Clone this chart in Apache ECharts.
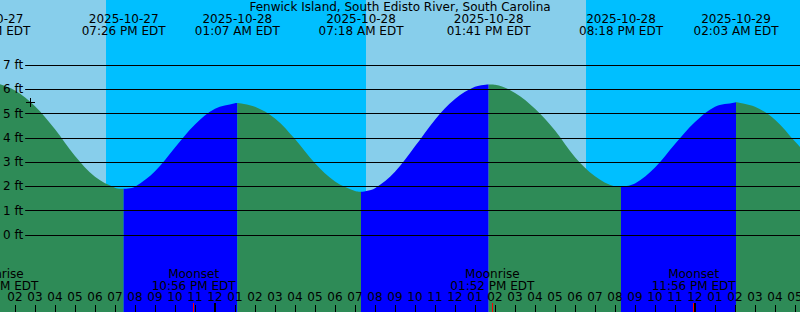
<!DOCTYPE html>
<html><head><meta charset="utf-8">
<script src="https://cdn.jsdelivr.net/npm/echarts@6/dist/echarts.min.js"></script>
<style>html,body{margin:0;padding:0;background:#fff}#c{width:800px;height:312px}</style>
</head><body><div id="c"></div><script>
const TITLE = 'Fenwick Island, South Edisto River, South Carolina';
// all times: hours relative to 2025-10-28 00:00 EDT
const tideHours = [-12,-11,-10,-9,-8,-7,-6,-5,-4,-3,-2,-1,0,1,2,3,4,5,6,7,8,9,10,11,12,13,14,15,16,17,18,19,20,21,22,23,24,25,26,27,28,29,30];
const tideFeet  = [6.18,6.27,5.95,5.3,4.35,3.25,2.4,1.95,1.99,2.62,3.6,4.55,5.2,5.43,5.28,4.8,3.95,2.95,2.2,1.81,1.93,2.6,3.65,4.75,5.6,6.1,6.19,5.85,5.2,4.3,3.2,2.42,2.0,2.12,2.78,3.75,4.65,5.28,5.46,5.28,4.75,3.85,2.95];
const extremeHours = [-11.33,-4.567,1.117,7.3,13.683,20.3,26.05];
const extremeFeet  = [6.3,1.9,5.44,1.78,6.2,1.98,5.47];
const extremeDates = ['2025-10-27','2025-10-27','2025-10-28','2025-10-28','2025-10-28','2025-10-28','2025-10-29'];
const extremeTimes = ['12:40 PM EDT','07:26 PM EDT','01:07 AM EDT','07:18 AM EDT','01:41 PM EDT','08:18 PM EDT','02:03 AM EDT'];
const sunHours = [-5.47, 7.53, 18.53];          // sunset, sunrise, sunset
const moonHours = [-10.93, -1.067, 13.867, 23.933];
const moonNames = ['Moonrise','Moonset','Moonrise','Moonset'];
const moonTimes = ['01:04 PM EDT','10:56 PM EDT','01:52 PM EDT','11:56 PM EDT'];
const hourTicks = [-10,-9,-8,-7,-6,-5,-4,-3,-2,-1,0,1,2,3,4,5,6,7,8,9,10,11,12,13,14,15,16,17,18,19,20,21,22,23,24,25,26,27,28,29];
const hourLabels = ['02','03','04','05','06','07','08','09','10','11','12','01','02','03','04','05','06','07','08','09','10','11','12','01','02','03','04','05','06','07','08','09','10','11','12','01','02','03','04','05'];
const markerPoint = [-9.24, 5.48];

const MIN_H = -10.75, MAX_H = 29.25;
const FT_MIN = -77 / (170 / 7), FT_MAX = 235 / (170 / 7);
const FONT = '12px "DejaVu Sans"';

const pts = tideHours.map((h, i) => [h, tideFeet[i]])
  .concat(extremeHours.map((h, i) => [h, extremeFeet[i]]))
  .sort((a, b) => a[0] - b[0]);

const tideSeries = [];
for (let k = 0; k <= extremeHours.length; k++) {
  const lo = k === 0 ? -Infinity : extremeHours[k - 1];
  const hi = k === extremeHours.length ? Infinity : extremeHours[k];
  const data = pts.filter(p => p[0] >= lo && p[0] <= hi);
  const rising = data[data.length - 1][1] > data[0][1];
  tideSeries.push({
    type: 'line', xAxisIndex: 0, yAxisIndex: 0, data, smooth: 0.35,
    showSymbol: false, symbol: 'none', silent: true, z: 2,
    lineStyle: { width: 0 },
    areaStyle: { color: rising ? '#0000ff' : '#2e8b57', opacity: 1, origin: 'start' }
  });
}

const skyEdges = [MIN_H].concat(sunHours, [MAX_H]);
const skyData = [];
for (let i = 0; i < skyEdges.length - 1; i++) skyData.push([skyEdges[i], skyEdges[i + 1], i % 2 === 0 ? 1 : 0]);

const chart = echarts.init(document.getElementById('c'), null, { renderer: 'svg' });
chart.setOption({
  animation: false,
  backgroundColor: '#ffffff',
  title: { text: TITLE, left: 'center', top: 1, padding: 0,
    textStyle: { fontSize: 12, fontWeight: 'normal', color: '#000', fontFamily: 'DejaVu Sans', lineHeight: 12 } },
  grid: [
    { left: 0, right: 0, top: 0, bottom: 0 },
    { left: 22, right: 0, top: 65, height: 170 }
  ],
  xAxis: [
    { type: 'value', min: MIN_H, max: MAX_H, show: false, gridIndex: 0 },
    { type: 'value', min: 0, max: 1, show: false, gridIndex: 1 }
  ],
  yAxis: [
    { type: 'value', min: FT_MIN, max: FT_MAX, show: false, gridIndex: 0 },
    { type: 'value', min: 0, max: 7, interval: 1, gridIndex: 1, z: 5,
      axisLine: { show: false }, axisTick: { show: false },
      splitLine: { show: true, lineStyle: { color: '#000', width: 1 } },
      axisLabel: { formatter: '{value} ft', color: '#000', fontSize: 12, fontFamily: 'DejaVu Sans', margin: 2 } }
  ],
  series: [
    { type: 'custom', xAxisIndex: 0, yAxisIndex: 0, z: 0, silent: true, data: skyData, encode: { x: [0, 1] },
      renderItem(params, api) {
        const cs = params.coordSys;
        const x1 = Math.round(api.coord([api.value(0), 0])[0]);
        const x2 = Math.round(api.coord([api.value(1), 0])[0]);
        return { type: 'rect', shape: { x: x1, y: cs.y, width: x2 - x1, height: cs.height },
          style: { fill: api.value(2) ? '#87ceeb' : '#00bfff' } };
      } }
  ].concat(tideSeries, [
    { type: 'custom', xAxisIndex: 0, yAxisIndex: 0, z: 20, silent: true,
      data: extremeHours.map((h, i) => [h, i]), encode: { x: 0 },
      renderItem(params, api) {
        const i = api.value(1);
        const x = api.coord([api.value(0), 0])[0];
        return { type: 'text', style: { text: extremeDates[i] + '\n' + extremeTimes[i], x, y: params.coordSys.y + 13.4,
          align: 'center', verticalAlign: 'top', font: FONT, lineHeight: 12, fill: '#000' } };
      } },
    { type: 'custom', xAxisIndex: 0, yAxisIndex: 0, z: 20, silent: true,
      data: hourTicks.map((h, i) => [h, i]), encode: { x: 0 },
      renderItem(params, api) {
        const cs = params.coordSys;
        const h = api.value(0);
        const x = api.coord([h, 0])[0];
        const thick = h % 24 === 0;
        const bottom = cs.y + cs.height;
        return { type: 'group', children: [
          { type: 'rect', shape: { x: Math.floor(x) - (thick ? 1 : 0), y: bottom - (thick ? 9 : 7), width: thick ? 2 : 1, height: thick ? 9 : 7 },
            style: { fill: '#000' } },
          { type: 'text', style: { text: hourLabels[api.value(1)], x, y: bottom - 21.3, align: 'center', verticalAlign: 'top',
            font: FONT, lineHeight: 12, fill: '#000' } }
        ] };
      } },
    { type: 'custom', xAxisIndex: 0, yAxisIndex: 0, z: 21, silent: true,
      data: moonHours.map((h, i) => [h, i]), encode: { x: 0 },
      renderItem(params, api) {
        const cs = params.coordSys;
        const i = api.value(1);
        const x = api.coord([api.value(0), 0])[0];
        const bottom = cs.y + cs.height;
        return { type: 'group', children: [
          { type: 'rect', shape: { x: Math.floor(x), y: bottom - 9, width: 1, height: 9 }, style: { fill: '#ff0000' } },
          { type: 'text', style: { text: moonNames[i] + '\n' + moonTimes[i], x, y: bottom - 43.6, align: 'center', verticalAlign: 'top',
            font: FONT, lineHeight: 12, fill: '#000' } }
        ] };
      } },
    { type: 'custom', xAxisIndex: 0, yAxisIndex: 0, z: 22, silent: true,
      data: [markerPoint], encode: { x: 0, y: 1 },
      renderItem(params, api) {
        const p = api.coord([api.value(0), api.value(1)]);
        const cx = Math.round(p[0]) + 0.5, cy = Math.round(p[1]) + 0.5;
        return { type: 'group', children: [
          { type: 'line', shape: { x1: cx - 4.5, y1: cy, x2: cx + 4.5, y2: cy }, style: { stroke: '#000', lineWidth: 1 } },
          { type: 'line', shape: { x1: cx, y1: cy - 4.5, x2: cx, y2: cy + 4.5 }, style: { stroke: '#000', lineWidth: 1 } }
        ] };
      } }
  ])
});
</script></body></html>
